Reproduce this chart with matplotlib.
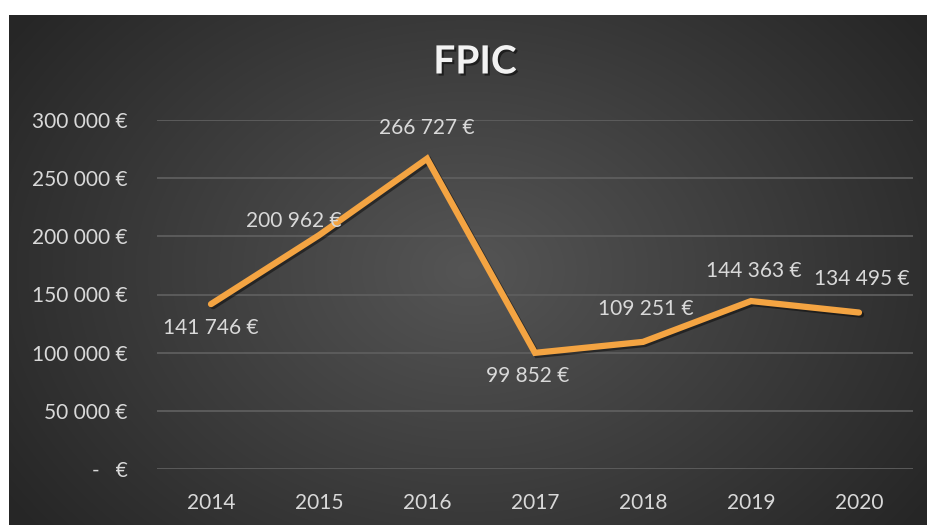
import numpy as np
import matplotlib
matplotlib.use("Agg")
import matplotlib.pyplot as plt
import matplotlib.patheffects as pe
from matplotlib.ticker import FuncFormatter

plt.rcParams['font.family'] = ['Lato', 'DejaVu Sans']

# Données FPIC
annees = ['2014', '2015', '2016', '2017', '2018', '2019', '2020']
montants = [141746, 200962, 266727, 99852, 109251, 144363, 134495]
# décalage des étiquettes (points) : (dx, dy)
decalages = [(0, -17), (-18, 10), (0, 22), (-5, -17), (2, 24), (2, 22), (2, 24)]


def euro(v):
    if v == 0:
        return "-   €"
    return f"{int(v):,}".replace(",", " ") + " €"


fig = plt.figure(figsize=(9.28, 5.25), dpi=100)
fig.patch.set_facecolor('white')

# fond en dégradé radial
bg = fig.add_axes([9 / 928, 0, 1 - 9 / 928, 1 - 15 / 525])
ny, nx = 510, 919
yy, xx = np.mgrid[0:ny, 0:nx]
d = np.sqrt(((xx - 460) / 560) ** 2 + ((yy - 255) / 420) ** 2)
d = np.clip(d, 0, 1)
grey = 0x55 / 255 * (1 - d) + 0x26 / 255 * d
bg.imshow(np.dstack([grey, grey, grey]), aspect='auto', interpolation='bilinear')
bg.axis('off')

ax = fig.add_axes([157 / 928, 56 / 525, 756 / 928, 349 / 525])
ax.patch.set_alpha(0)
x = np.arange(len(annees))
ax.plot(x, montants, color='#F4A442', lw=4.5, solid_capstyle='round',
        solid_joinstyle='miter', zorder=3,
        path_effects=[pe.SimpleLineShadow(offset=(1.5, -1.5), shadow_color='black', alpha=0.45),
                      pe.Normal()])

for xi, v, (dx, dy) in zip(x, montants, decalages):
    ax.annotate(euro(v), (xi, v), xytext=(dx, dy), textcoords='offset points',
                ha='center', va='center', color='#D9D9D9', fontsize=15, zorder=4)

ax.set_xlim(-0.5, len(annees) - 0.5)
ax.set_ylim(0, 300000)
ax.set_yticks(np.arange(0, 300001, 50000))
ax.yaxis.set_major_formatter(FuncFormatter(lambda v, p: euro(v)))
ax.set_xticks(x)
ax.set_xticklabels(annees)
ax.tick_params(axis='both', length=0, colors='#D9D9D9', labelsize=15)
ax.tick_params(axis='y', pad=21)
ax.tick_params(axis='x', pad=17)
ax.grid(axis='y', color='#5E5E5E', lw=1.3)
ax.set_axisbelow(True)
for s in ax.spines.values():
    s.set_visible(False)

fig.text(475 / 928, 1 - 62 / 525, 'FPIC', ha='center', va='center', color='#F2F2F2',
         fontsize=28, fontweight='bold',
         path_effects=[pe.withSimplePatchShadow(offset=(1.5, -1.5), shadow_rgbFace='black', alpha=0.5)])

fig.savefig('out.png', dpi=100)
